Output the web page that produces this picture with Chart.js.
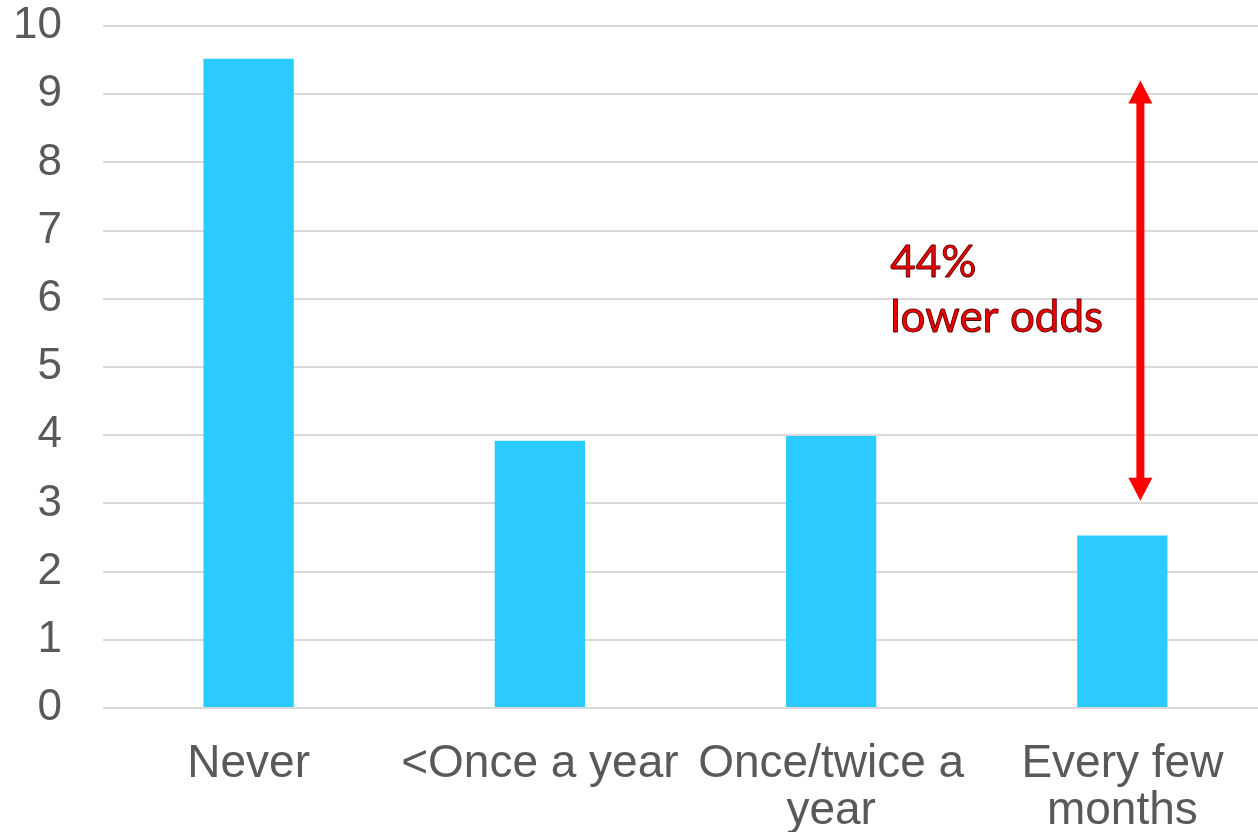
<!DOCTYPE html>
<html>
<head>
<meta charset="utf-8">
<script src="https://cdn.jsdelivr.net/npm/chart.js@4/dist/chart.umd.min.js"></script>
<style>
  html, body { margin: 0; padding: 0; background: #ffffff; overflow: hidden; }
  #wrap { position: relative; width: 1268px; height: 832px; }
</style>
</head>
<body>
<div id="wrap"><canvas id="chart"></canvas></div>
<script>
// Frequency categories (x axis)
const categories = ['Never', '<Once a year', ['Once/twice a', 'year'], ['Every few', 'months']];
// Bar heights
const values = [9.52, 3.92, 3.99, 2.53];
// Y axis range and step
const yTicks = { min: 0, max: 10, step: 1 };
// Annotation: arrow span (in y values) over the last category, and its caption
const arrowSpan = { category: 3, from: 3.04, to: 9.2 };
const noteLines = ['44%', 'lower odds'];

const yFont = { family: '"Liberation Sans", Arial, sans-serif', size: 44, lineHeight: 1.04 };
const xFont = { family: '"Liberation Sans", Arial, sans-serif', size: 46, lineHeight: 1.02 };

const annotationPlugin = {
  id: 'oddsArrow',
  afterDatasetsDraw(chart) {
    const { ctx, scales: { x, y } } = chart;
    const ax = x.getPixelForValue(arrowSpan.category) + 18;
    const yTop = y.getPixelForValue(arrowSpan.to);
    const yBot = y.getPixelForValue(arrowSpan.from);
    const head = 23, halfW = 12;
    ctx.save();
    ctx.fillStyle = '#ff0000';
    ctx.strokeStyle = '#ff0000';
    ctx.lineWidth = 8;
    ctx.beginPath();
    ctx.moveTo(ax, yTop + head - 1);
    ctx.lineTo(ax, yBot - head + 1);
    ctx.stroke();
    ctx.beginPath();
    ctx.moveTo(ax, yTop);
    ctx.lineTo(ax - halfW, yTop + head);
    ctx.lineTo(ax + halfW, yTop + head);
    ctx.closePath();
    ctx.fill();
    ctx.beginPath();
    ctx.moveTo(ax, yBot);
    ctx.lineTo(ax - halfW, yBot - head);
    ctx.lineTo(ax + halfW, yBot - head);
    ctx.closePath();
    ctx.fill();

    // caption: red glyphs with a thin dark edge
    const tx = x.getPixelForValue(2) + 59;
    ctx.font = '44px Lato, "Open Sans", sans-serif';
    ctx.textAlign = 'left';
    ctx.textBaseline = 'alphabetic';
    ctx.lineJoin = 'round';
    ctx.lineWidth = 0.9;
    ctx.strokeStyle = '#5a0000';
    ctx.fillStyle = '#ee0000';
    const baselines = [y.getPixelForValue(6.32), y.getPixelForValue(5.52)];
    noteLines.forEach((t, i) => {
      ctx.fillText(t, tx, baselines[i]);
      ctx.strokeText(t, tx, baselines[i]);
    });
    ctx.restore();
  }
};

new Chart(document.getElementById('chart'), {
  type: 'bar',
  data: {
    labels: categories,
    datasets: [{
      data: values,
      backgroundColor: '#2ccbff',
      borderWidth: 0,
      barPercentage: 0.31,
      categoryPercentage: 1.0
    }]
  },
  options: {
    responsive: true,
    maintainAspectRatio: false,
    animation: false,
    devicePixelRatio: 1,
    layout: { padding: { left: 0, right: 0, top: 0, bottom: 0 } },
    plugins: { legend: { display: false }, tooltip: { enabled: false } },
    scales: {
      x: {
        grid: { display: false, drawTicks: false },
        border: { display: false },
        ticks: {
          color: '#595959',
          font: xFont,
          maxRotation: 0,
          autoSkip: false,
          padding: 33
        },
        afterFit(scale) {
          scale.height = 124;
          scale.paddingLeft = 0;
          scale.paddingRight = 0;
        }
      },
      y: {
        min: yTicks.min,
        max: yTicks.max,
        grid: { color: '#d9d9d9', lineWidth: 2, drawTicks: false },
        border: { display: false },
        ticks: {
          stepSize: yTicks.step,
          color: '#595959',
          font: yFont,
          padding: 41
        },
        afterFit(scale) {
          scale.width = 103;
          scale.paddingTop = 26;
          scale.paddingBottom = 0;
        }
      }
    }
  },
  plugins: [annotationPlugin]
});
</script>
</body>
</html>
